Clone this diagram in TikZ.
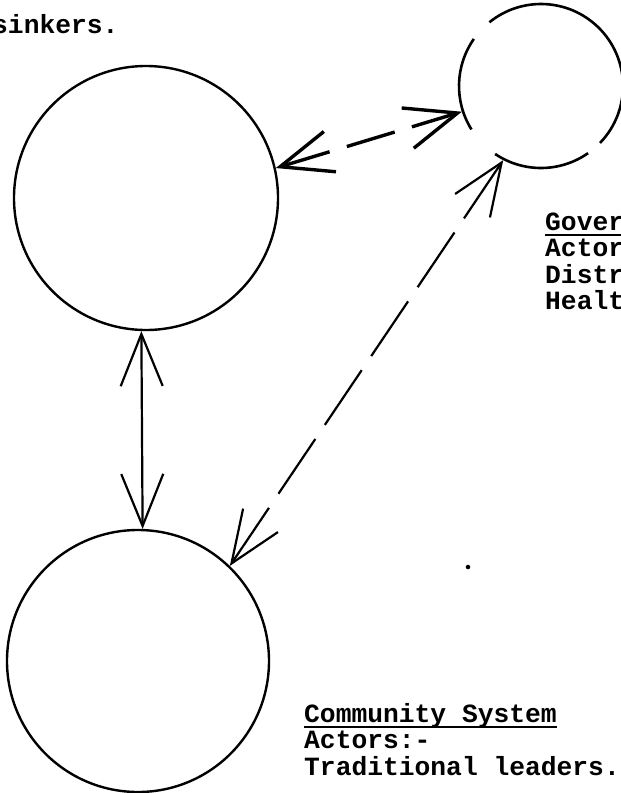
\documentclass[tikz,border=0pt]{standalone}
\usepackage{fontspec}
\newfontfamily\typer{Liberation Mono}
\usetikzlibrary{arrows.meta}

\begin{document}
\begin{tikzpicture}[x=1pt,y=-1pt,
  main/.style = {circle, inner sep=0pt, line width=2.4pt},
  txt/.style = {font=\typer\bfseries\fontsize{26.3}{26.5}\selectfont, anchor=base west, inner sep=0pt},
  link/.style = {{Straight Barb[length=52pt,width=42pt]}-{Straight Barb[length=52pt,width=42pt]}}]
\useasboundingbox (0,0) rectangle (621,793);
\node[main, draw, minimum size=264pt] (1) at (146,198) {};
\node[main, draw, minimum size=262pt] (2) at (138,661) {};
\node[main, minimum size=164pt] (3) at (541,86) {};
\draw[line width=2.6pt] ([shift={(145:82pt)}]3.center) arc[start angle=145, end angle=212, radius=82pt];
\draw[line width=2.6pt] ([shift={(236:82pt)}]3.center) arc[start angle=236, end angle=305, radius=82pt];
\draw[line width=2.6pt] ([shift={(316:82pt)}]3.center) arc[start angle=316, end angle=489, radius=82pt];
\node[circle, fill, inner sep=1.6pt] (4) at (468,567) {};
\node[txt] (5) at (-8,33) {sinkers.};
\node[txt] (6) at (545,230) {Gover};
\node[txt] (7) at (545,256.5) {Actor};
\node[txt] (8) at (545,283) {Distr};
\node[txt] (9) at (545,309.5) {Healt};
\node[txt] (10) at (304,722) {Community System};
\node[txt] (11) at (304,748.5) {Actors:-};
\node[txt] (12) at (304,775) {Traditional leaders.};
\draw[line width=2.5pt] ([yshift=-5pt]6.base west) -- ([yshift=-5pt]6.base east);
\draw[line width=2.5pt] ([yshift=-5pt]10.base west) -- ([yshift=-5pt]10.base east);
\draw[link, line width=3.4pt, dash pattern=on 50pt off 18pt] (1.13) -- (3.198);
\draw[link, line width=2.2pt] (1.268) -- (2.88);
\draw[link, line width=2.2pt, dash pattern=on 66pt off 17pt] (2.46) -- (3.243);
\end{tikzpicture}
\end{document}
